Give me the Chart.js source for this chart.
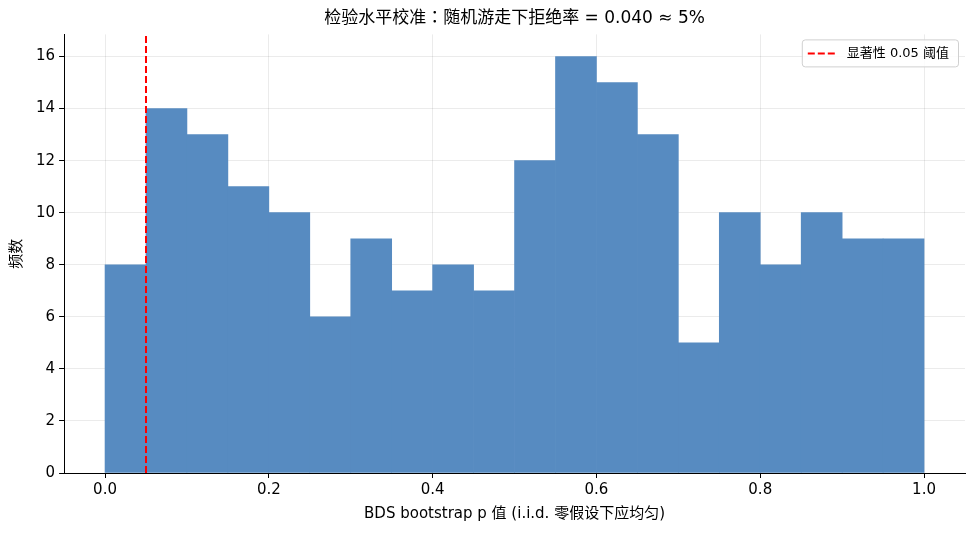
<!DOCTYPE html>
<html>
<head>
<meta charset="utf-8">
<script src="https://cdn.jsdelivr.net/npm/chart.js@4.4.1/dist/chart.umd.min.js"></script>
<style>
  html, body { margin: 0; padding: 0; background: #fff; }
  #wrap { width: 975px; height: 535px; position: relative; }
</style>
</head>
<body>
<div id="wrap"><canvas id="myChart"></canvas></div>
<script>
// histogram of BDS bootstrap p values, 20 bins of width 0.05
const binStarts = [0.00, 0.05, 0.10, 0.15, 0.20, 0.25, 0.30, 0.35, 0.40, 0.45,
                   0.50, 0.55, 0.60, 0.65, 0.70, 0.75, 0.80, 0.85, 0.90, 0.95];
const binWidth = 0.05;
const counts = [8, 14, 13, 11, 10, 6, 9, 7, 8, 7, 12, 16, 15, 13, 5, 10, 8, 10, 9, 9];
const xTicks = [0, 0.2, 0.4, 0.6, 0.8, 1.0];
const yTicks = [0, 2, 4, 6, 8, 10, 12, 14, 16];
const threshold = 0.05;
const thresholdLabel = "显著性 0.05 阈值";
const yTop = 16.85;

const FONT = '"DejaVu Sans", "Noto Sans CJK SC", sans-serif';
// TC variant only for the title: its full-width colon is centred
const TITLE_FONT = '"DejaVu Sans", "Noto Sans CJK TC", "Noto Sans CJK SC", sans-serif';

// legend drawn inside the axes (top right), like matplotlib
const insideLegend = {
  id: "insideLegend",
  afterDraw(chart) {
    const {ctx, chartArea} = chart;
    ctx.save();
    ctx.font = "13px " + FONT;
    const tw = ctx.measureText(thresholdLabel).width;
    const w = tw + 54, h = 27;
    const x = chartArea.right - w - 7, y = chartArea.top + 5;
    ctx.fillStyle = "rgba(255,255,255,0.85)";
    ctx.strokeStyle = "#d0d0d0";
    ctx.lineWidth = 1;
    ctx.beginPath();
    ctx.roundRect(x + 0.5, y + 0.5, w, h, 3);
    ctx.fill();
    ctx.stroke();
    ctx.strokeStyle = "red";
    ctx.lineWidth = 2;
    ctx.setLineDash([7, 3]);
    ctx.beginPath();
    ctx.moveTo(x + 6, y + h / 2 + 0.5);
    ctx.lineTo(x + 34, y + h / 2 + 0.5);
    ctx.stroke();
    ctx.setLineDash([]);
    ctx.fillStyle = "#000";
    ctx.textBaseline = "middle";
    ctx.fillText(thresholdLabel, x + 45, y + h / 2 + 1);
    ctx.restore();
  }
};

const data = {
  datasets: [
    {
      type: "bar",
      label: "频数",
      data: binStarts.map((s, i) => ({x: s + binWidth / 2, y: counts[i]})),
      backgroundColor: "#578bc1",
      borderWidth: 0,
      barPercentage: 1.0,
      categoryPercentage: 1.0,
      order: 2,
    },
    {
      type: "line",
      label: thresholdLabel,
      data: [{x: threshold, y: 0}, {x: threshold, y: yTop}],
      borderColor: "red",
      borderWidth: 2,
      borderDash: [7, 3],
      pointRadius: 0,
      fill: false,
      order: 1,
    },
  ],
};

const gridStyle = {
  color: "rgba(0,0,0,0.08)",
  tickColor: "#000",
  tickLength: 5,
  offset: false,
};

const config = {
  type: "bar",
  data,
  options: {
    responsive: false,
    animation: false,
    layout: { padding: { left: 4, right: 10, top: 2, bottom: 8 } },
    plugins: {
      legend: { display: false },
      tooltip: { enabled: false },
      title: {
        display: true,
        fullSize: false,
        text: "检验水平校准：随机游走下拒绝率 = 0.040 ≈ 5%",
        color: "#000",
        font: { family: TITLE_FONT, size: 17, weight: "normal" },
        padding: { top: 6, bottom: 6 },
      },
    },
    scales: {
      x: {
        type: "linear",
        min: -0.05,
        max: 1.05,
        offset: false,
        z: 1,
        afterBuildTicks: (axis) => {
          axis.ticks = xTicks.map(v => ({value: v}));
        },
        ticks: {
          color: "#000",
          font: { family: FONT, size: 15 },
          callback: (v) => Number(v).toFixed(1),
          padding: 3,
          maxRotation: 0,
        },
        grid: gridStyle,
        border: { color: "#000", width: 1 },
        title: {
          display: true,
          text: "BDS bootstrap p 值 (i.i.d. 零假设下应均匀)",
          color: "#000",
          font: { family: FONT, size: 15 },
          padding: { top: 3 },
        },
      },
      y: {
        min: 0,
        max: yTop,
        z: 1,
        afterBuildTicks: (axis) => {
          axis.ticks = yTicks.map(v => ({value: v}));
        },
        ticks: {
          color: "#000",
          font: { family: FONT, size: 15 },
          padding: 4,
        },
        grid: gridStyle,
        border: { color: "#000", width: 1 },
        title: {
          display: true,
          text: "频数",
          color: "#000",
          font: { family: FONT, size: 15 },
          padding: { bottom: 6 },
        },
      },
    },
  },
  plugins: [insideLegend],
};

const canvas = document.getElementById("myChart");
canvas.width = 975;
canvas.height = 535;
const myChart = new Chart(canvas, config);
</script>
</body>
</html>
